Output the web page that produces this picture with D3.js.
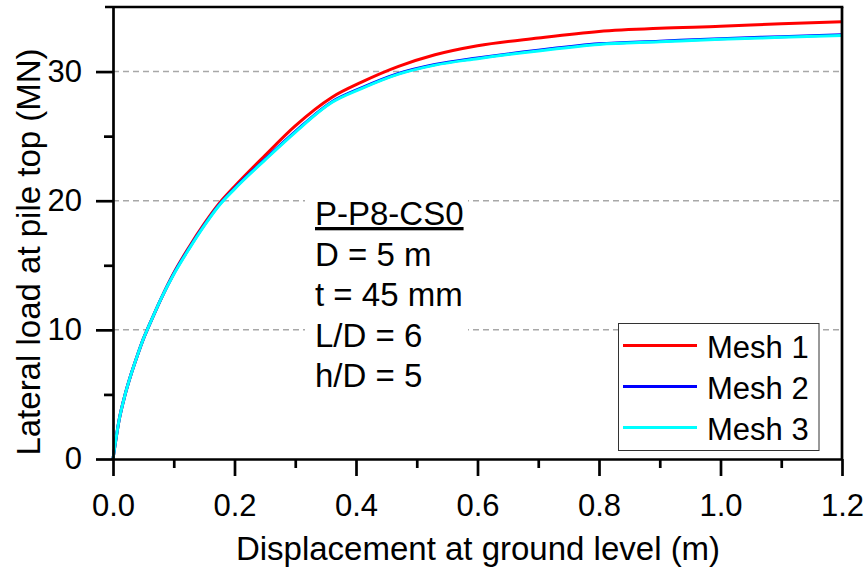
<!DOCTYPE html>
<html>
<head>
<meta charset="utf-8">
<script src="https://d3js.org/d3.v7.min.js"></script>
<style>
  body { margin: 0; background: #fff; }
  text { font-family: "Liberation Sans", Arial, sans-serif; fill: #000; }
</style>
</head>
<body>
<script>
// displacement at ground level (m)
var disp  = [0, 0.01, 0.02, 0.03, 0.04, 0.05, 0.06, 0.08, 0.10, 0.125, 0.15, 0.175, 0.2, 0.25, 0.3, 0.36, 0.41, 0.47, 0.53, 0.6, 0.7, 0.8, 0.9, 1.0, 1.1, 1.2];
// lateral load at pile top (MN)
var mesh1 = [0, 3.0, 5.0, 6.6, 8.0, 9.3, 10.4, 12.5, 14.4, 16.4, 18.2, 19.8, 21.1, 23.5, 25.8, 28.0, 29.2, 30.4, 31.3, 32.0, 32.6, 33.1, 33.35, 33.5, 33.7, 33.85];
var mesh2 = [0, 3.0, 5.0, 6.6, 8.0, 9.3, 10.4, 12.5, 14.35, 16.3, 18.1, 19.7, 20.95, 23.2, 25.35, 27.65, 28.75, 29.85, 30.55, 31.05, 31.65, 32.15, 32.35, 32.55, 32.7, 32.85];
var mesh3 = [0, 3.0, 5.0, 6.6, 8.0, 9.3, 10.4, 12.5, 14.3, 16.25, 18.05, 19.65, 20.9, 23.15, 25.3, 27.6, 28.7, 29.8, 30.5, 31.0, 31.6, 32.1, 32.3, 32.5, 32.65, 32.8];
var seriesNames = ["Mesh 1", "Mesh 2", "Mesh 3"];
var seriesColors = ["#ff0000", "#0000ff", "#00ffff"];
var xTicks = [0, 0.2, 0.4, 0.6, 0.8, 1.0, 1.2];
var xMinor = [0.1, 0.3, 0.5, 0.7, 0.9, 1.1];
var yTicks = [0, 10, 20, 30];
var yMinor = [5, 15, 25];
var gridVals = [10, 20, 30];
var infoLines = ["P-P8-CS0", "D = 5 m", "t = 45 mm", "L/D = 6", "h/D = 5"];

var W = 868, H = 570;
var pLeft = 113, pRight = 842, pTop = 7, pBottom = 459;

var svg = d3.select("body").append("svg")
    .attr("width", W).attr("height", H);

var x = d3.scaleLinear().domain([0, 1.2]).range([pLeft, pRight]);
var y = d3.scaleLinear().domain([0, 35]).range([pBottom, pTop]);

// dashed grid
svg.append("g").selectAll("line").data(gridVals).enter().append("line")
    .attr("x1", pLeft).attr("x2", pRight)
    .attr("y1", d => y(d)).attr("y2", d => y(d))
    .attr("stroke", "#a8a8a8").attr("stroke-width", 1.5)
    .attr("stroke-dasharray", "6,4");

// white box behind annotation
svg.append("rect").attr("x", 305).attr("y", 192).attr("width", 163).attr("height", 205)
    .attr("fill", "#fff");

// curves
var allSeries = [mesh1, mesh2, mesh3];
var line = d3.line().curve(d3.curveMonotoneX).x(d => x(d[0])).y(d => y(d[1]));
allSeries.forEach(function(s, i) {
    svg.append("path")
        .datum(disp.map((d, j) => [d, s[j]]))
        .attr("fill", "none")
        .attr("stroke", seriesColors[i])
        .attr("stroke-width", 3)
        .attr("stroke-linejoin", "round")
        .attr("d", line);
});

// top and right frame
svg.append("line").attr("x1", pLeft - 8).attr("x2", pRight + 1.35).attr("y1", pTop).attr("y2", pTop)
    .attr("stroke", "#000").attr("stroke-width", 2.7);
svg.append("line").attr("x1", pRight).attr("x2", pRight).attr("y1", pTop).attr("y2", pBottom)
    .attr("stroke", "#000").attr("stroke-width", 2.7);

// axes
var xAxis = svg.append("g").attr("transform", "translate(0," + pBottom + ")")
    .call(d3.axisBottom(x).tickValues(xTicks).tickSize(17).tickSizeOuter(0).tickPadding(18)
        .tickFormat(d3.format(".1f")));
var xAxisMinor = svg.append("g").attr("transform", "translate(0," + pBottom + ")")
    .call(d3.axisBottom(x).tickValues(xMinor).tickSize(9).tickSizeOuter(0).tickFormat(""));
var yAxis = svg.append("g").attr("transform", "translate(" + pLeft + ",0)")
    .call(d3.axisLeft(y).tickValues(yTicks).tickSize(17).tickSizeOuter(0).tickPadding(14));
var yAxisMinor = svg.append("g").attr("transform", "translate(" + pLeft + ",0)")
    .call(d3.axisLeft(y).tickValues(yMinor).tickSize(9).tickSizeOuter(0).tickFormat(""));

svg.selectAll(".domain").attr("stroke", "#000").attr("stroke-width", 2.7);
svg.selectAll(".tick line").attr("stroke", "#000").attr("stroke-width", 2.7);
svg.selectAll(".tick text").attr("font-size", 31).attr("font-family", "Liberation Sans, Arial, sans-serif").attr("fill", "#000");
xAxisMinor.select(".domain").remove();
yAxisMinor.select(".domain").remove();

// axis titles
svg.append("text").attr("x", 478).attr("y", 560).attr("text-anchor", "middle")
    .attr("font-size", 33).text("Displacement at ground level (m)");
svg.append("text").attr("transform", "translate(40,252) rotate(-90)").attr("text-anchor", "middle")
    .attr("font-size", 33).text("Lateral load at pile top (MN)");

// annotation
svg.append("g").selectAll("text").data(infoLines).enter().append("text")
    .attr("x", 315).attr("y", (d, i) => 225 + i * 40.5)
    .attr("font-size", 33)
    .style("text-decoration", (d, i) => i === 0 ? "underline" : null)
    .text(d => d);

// legend
var lg = svg.append("g");
lg.append("rect").attr("x", 618.5).attr("y", 323.5).attr("width", 200.5).attr("height", 127)
    .attr("fill", "#fff").attr("stroke", "#333").attr("stroke-width", 1);
seriesNames.forEach(function(n, i) {
    var cy = 345.5 + i * 41;
    lg.append("line").attr("x1", 623).attr("x2", 697).attr("y1", cy).attr("y2", cy)
        .attr("stroke", seriesColors[i]).attr("stroke-width", 3);
    lg.append("text").attr("x", 707).attr("y", cy + 12.5).attr("font-size", 31).text(n);
});
</script>
</body>
</html>
